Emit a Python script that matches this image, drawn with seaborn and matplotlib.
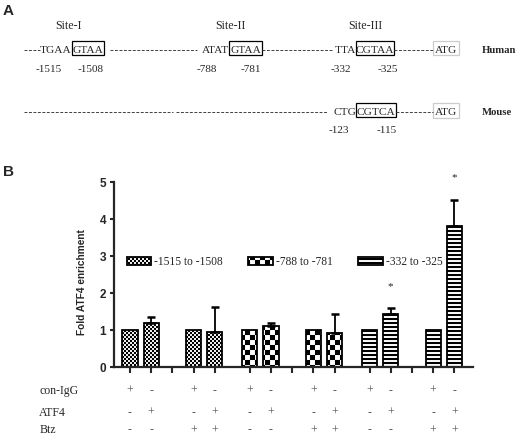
import numpy as np
import pandas as pd
import seaborn as sns
import matplotlib.pyplot as plt
import matplotlib.hatch as mhatch
from matplotlib.path import Path
from matplotlib.patches import Patch, Rectangle
from matplotlib.lines import Line2D
from matplotlib.transforms import blended_transform_factory

# ---- panel B data ----
sites = ["-1515 to -1508", "-788 to -781", "-332 to -325"]
group_site = [0, 0, 1, 1, 2, 2]
con_igg_fold = [1.0, 1.0, 1.0, 1.0, 1.0, 1.0]
atf4_fold = [1.19, 0.96, 1.12, 0.92, 1.43, 3.82]
atf4_sem = [0.18, 0.66, 0.07, 0.52, 0.16, 0.70]
btz = ["-", "+", "-", "+", "-", "+"]
significant = [False, False, False, False, True, True]
row_labels = ["con-IgG", "ATF4", "Btz"]

# ---- panel A text ----
site_names = ["Site-I", "Site-II", "Site-III"]
human_pos = ["-1515", "-1508", "-788", "-781", "-332", "-325"]
mouse_pos = ["-123", "-115"]

# layout (slot units along x, one slot = distance between bars in a pair)
group_x = [0.5, 3.5, 6.15, 9.15, 11.8, 14.8]
gap_ticks = [2.0, 7.65, 13.3]
site_hatch = ["o", "O", "-"]


# filled textures used as hatches: fine checker, coarse checker, stripes
def _checker(n):
    s = 1.0 / n
    return [(i * s, j * s, s, s) for i in range(n) for j in range(n) if (i + j) % 2 == 0]


class Texture(mhatch.HatchPatternBase):
    def __init__(self, hatch, density):
        self.rects = []
        if "o" in hatch:
            self.rects += _checker(50)
        if "O" in hatch:
            self.rects += _checker(20)
        if "-" in hatch:
            self.rects += [(0.0, j / 25, 1.0, 0.5 / 25) for j in range(25)]
        self.num_vertices = 5 * len(self.rects)

    def set_vertices_and_codes(self, vertices, codes):
        for k, (x, y, w, h) in enumerate(self.rects):
            vertices[5 * k:5 * k + 5] = [(x, y), (x + w, y), (x + w, y + h), (x, y + h), (x, y)]
            codes[5 * k:5 * k + 5] = [Path.MOVETO, Path.LINETO, Path.LINETO, Path.LINETO, Path.CLOSEPOLY]


mhatch._hatch_types = [Texture]

sns.set_style("ticks")
plt.rcParams["font.family"] = ["Liberation Sans", "DejaVu Sans"]
plt.rcParams["hatch.linewidth"] = 0.05
SERIF = "Liberation Serif"

W, H = 520, 437
fig = plt.figure(figsize=(5.2, 4.37), dpi=100)


def fx(px):
    return px / W


def fy(py):
    return 1 - py / H


# ================= panel A =================
fig.text(fx(3), fy(15), "A", fontsize=11, fontweight="bold", va="baseline")
fig.text(fx(3), fy(176.5), "B", fontsize=11, fontweight="bold", va="baseline")

for name, x in zip(site_names, [68, 230, 365]):
    fig.text(fx(x), fy(29.3), name, family=SERIF, fontsize=8.6, ha="center", va="baseline")

seq_texts = [
    ("TGAA", 71.5, 53.3, "right"), ("GTAA", 88, 53.3, "center"),
    ("ATAT", 229.3, 53.3, "right"), ("GTAA", 245.7, 53.3, "center"),
    ("TTA", 356, 53.3, "right"), ("CGTAA", 375.2, 53.3, "center"),
    ("ATG", 446.2, 53.3, "center"),
    ("CTG", 356, 115, "right"), ("CGTCA", 375.8, 115, "center"),
    ("ATG", 446, 115, "center"),
]
for s, x, y, ha in seq_texts:
    fig.text(fx(x), fy(y), s, family=SERIF, fontsize=8.2, ha=ha, va="baseline")

fig.text(fx(482), fy(53.3), "Human", family=SERIF, fontsize=7.7, fontweight="bold", va="baseline")
fig.text(fx(482), fy(115), "Mouse", family=SERIF, fontsize=7.7, fontweight="bold", va="baseline")

for s, x in zip(human_pos, [49, 91, 206.7, 251, 340.7, 388.3]):
    fig.text(fx(x), fy(71.7), s, family=SERIF, fontsize=8.1, ha="center", va="baseline")
for s, x in zip(mouse_pos, [339, 386.7]):
    fig.text(fx(x), fy(132.7), s, family=SERIF, fontsize=8.1, ha="center", va="baseline")

boxes = [
    (71.7, 104.3, 40.7, 54.5, "black"), (229.3, 262, 40.7, 54.5, "black"),
    (356, 394.3, 40.7, 54.5, "black"), (433.3, 459, 40.7, 55, "0.8"),
    (356, 395.7, 102.7, 117.3, "black"), (433, 459, 103, 118, "0.8"),
]
for x0, x1, y0, y1, c in boxes:
    fig.add_artist(Rectangle((fx(x0), fy(y1)), fx(x1) - fx(x0), fy(y0) - fy(y1),
                             transform=fig.transFigure, fill=False, lw=0.9, ec=c))

dashes = [(24, 39.5, 49.5), (110, 197, 49.5), (262, 333, 49.5), (394.3, 433.3, 49.5),
          (24, 173, 111.5), (176, 328, 111.5), (395.7, 433, 111.5)]
for x0, x1, y in dashes:
    fig.add_artist(Line2D([fx(x0), fx(x1)], [fy(y), fy(y)], transform=fig.transFigure,
                          lw=0.7, color="0.25", linestyle=(0, (3, 1.6))))

# ================= panel B =================
rows = []
for g, gx in enumerate(group_x):
    site = sites[group_site[g]]
    rows.append(dict(x=gx - 0.5, fold=con_igg_fold[g], sem=0.0, site=site, ab="con-IgG"))
    rows.append(dict(x=gx + 0.5, fold=atf4_fold[g], sem=atf4_sem[g], site=site, ab="ATF4"))
df = pd.DataFrame(rows)

ax = fig.add_axes([0.2192, 0.1595, 0.6904, 0.4233])
sns.barplot(data=df, x="x", y="fold", native_scale=True, width=0.72, color="white",
            saturation=1, edgecolor="black", linewidth=1.3, errorbar=None, ax=ax)

for p in ax.patches:
    cx = p.get_x() + p.get_width() / 2
    i = int(np.argmin(np.abs(df["x"].to_numpy() - cx)))
    p.set_hatch(site_hatch[sites.index(df.loc[i, "site"])])

atf = df[df["ab"] == "ATF4"]
ax.errorbar(atf["x"], atf["fold"], yerr=[np.zeros(len(atf)), atf["sem"]], fmt="none",
            ecolor="black", elinewidth=1.3, capsize=3.2, capthick=1.8, zorder=3)

for g, gx in enumerate(group_x):
    if significant[g]:
        top = atf4_fold[g] + atf4_sem[g]
        ax.text(gx + 0.5, top + 0.6, "*", family=SERIF, fontsize=8, ha="center", va="center")

ax.set_xlim(-0.755, 16.18)
ax.set_ylim(0, 5)
ax.set_yticks(range(6))
ax.set_xticks(sorted(list(df["x"]) + gap_ticks))
ax.tick_params(axis="x", labelbottom=False, length=4, width=1.5, direction="out")
ax.tick_params(axis="y", length=3, width=1.5, pad=2.5, labelsize=8.5)
for lab in ax.get_yticklabels():
    lab.set_fontweight("bold")
ax.set_xlabel("")
ax.set_ylabel("Fold ATF4 enrichment", fontsize=7.3, fontweight="bold")
ax.yaxis.set_label_coords(-0.075, 0.463)
sns.despine(ax=ax)
for side in ["left", "bottom"]:
    ax.spines[side].set_linewidth(1.6)

handles = [Patch(facecolor="white", edgecolor="black", linewidth=1.3, hatch=h, label=s)
           for s, h in zip(sites, site_hatch)]
ax.legend(handles=handles, loc="center left", bbox_to_anchor=(0.0354, 0.568), ncol=3,
          frameon=False, prop=dict(family=SERIF, size=8.3), handlelength=2.1,
          handleheight=0.7, handletextpad=0.3, columnspacing=2.2, borderpad=0,
          borderaxespad=0)

# condition table under the bars
tr = blended_transform_factory(ax.transData, fig.transFigure)
row_y = [fy(394), fy(416), fy(433.3)]
for lab, y in zip(row_labels, row_y):
    fig.text(fx(39.3), y, lab, family=SERIF, fontsize=8.5, va="baseline")
for g, gx in enumerate(group_x):
    signs = [("+", "-"), ("-", "+"), (btz[g], btz[g])]
    for (s_con, s_atf), y in zip(signs, row_y):
        ax.text(gx - 0.5, y, s_con, transform=tr, family=SERIF, fontsize=8.5,
                ha="center", va="baseline", color="0.35")
        ax.text(gx + 0.5, y, s_atf, transform=tr, family=SERIF, fontsize=8.5,
                ha="center", va="baseline", color="0.35")

fig.savefig("out.png", dpi=100)
